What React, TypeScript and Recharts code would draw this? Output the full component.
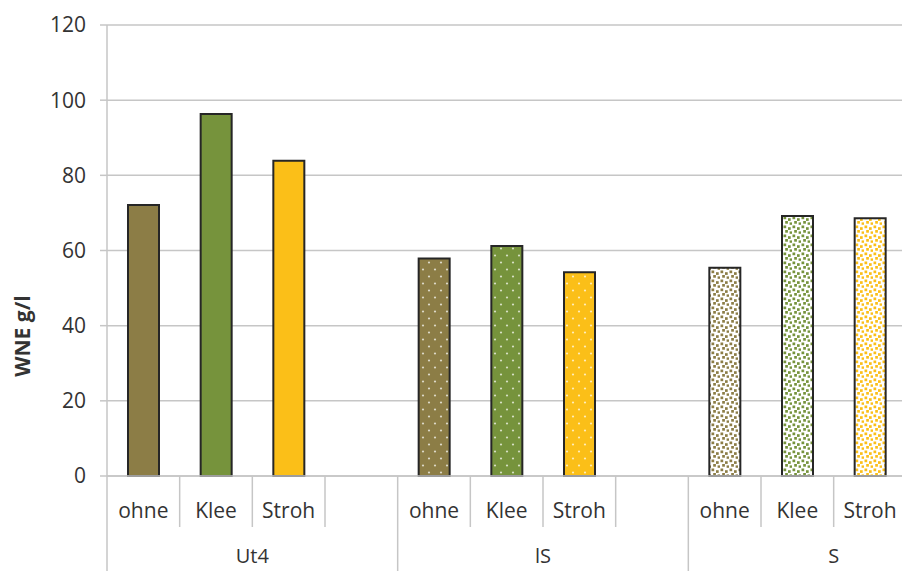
import React from 'react';
import { BarChart, Bar, XAxis, YAxis, CartesianGrid, Cell } from 'recharts';

const groups = ['Ut4', 'lS', 'S'];
const treatments = ['ohne', 'Klee', 'Stroh', ''];
const ut4Values = [72.1, 96.3, 83.9, null];
const lsValues = [57.9, 61.2, 54.2, null];
const sValues = [55.4, 69.2, 68.6, null];
const yTicks = [0, 20, 40, 60, 80, 100, 120];
const yLabel = 'WNE g/l';

const treatmentColors = ['#8c7d46', '#76933c', '#fbbf18', '#cccccc'];
const patternIds = ['ohne', 'klee', 'stroh', 'none'];

const groupValues = [ut4Values, lsValues, sValues];
const data = groups.flatMap((g, gi) =>
  treatments.map((t, ti) => ({
    key: `${g}-${ti}`,
    group: g,
    treatment: t,
    gi,
    ti,
    value: groupValues[gi][ti],
  }))
);

const CHART_W = 990;
const CHART_H = 600;
const MARGIN = { top: 25, right: 11, bottom: 0, left: 0 };
const Y_AXIS_W = 107;
const PLOT_H = 451;
const X_AXIS_H = CHART_H - MARGIN.top - MARGIN.bottom - PLOT_H;
const PLOT_W = CHART_W - MARGIN.left - MARGIN.right - Y_AXIS_W;
const BAND = PLOT_W / data.length;
const AXIS_Y = MARGIN.top + PLOT_H;
const TEXT = '#333333';
const GRID = '#c6c6c6';
const FONT = '"Open Sans", sans-serif';

const CatTick = (props: any) => {
  const { x, payload } = props;
  const idx = payload.index;
  const d = data[idx];
  if (!d) return null;
  const right = x + BAND / 2;
  const left = x - BAND / 2;
  const groupEnd = d.ti === treatments.length - 1;
  return (
    <g>
      {idx === 0 && (
        <line x1={left} x2={left} y1={AXIS_Y} y2={CHART_H} stroke={GRID} strokeWidth={1.5} />
      )}
      <line
        x1={right}
        x2={right}
        y1={AXIS_Y}
        y2={groupEnd ? CHART_H : AXIS_Y + 51}
        stroke={GRID}
        strokeWidth={1.5}
      />
      {d.treatment && (
        <text x={x} y={AXIS_Y + 42} textAnchor="middle" fontSize={21} fill={TEXT} fontFamily={FONT}>
          {d.treatment}
        </text>
      )}
      {d.ti === 1 && (
        <text x={right} y={AXIS_Y + 87} textAnchor="middle" fontSize={20} fill={TEXT} fontFamily={FONT}>
          {d.group}
        </text>
      )}
    </g>
  );
};

const fillFor = (gi: number, ti: number) => {
  if (gi === 0) return treatmentColors[ti];
  if (gi === 1) return `url(#on-${patternIds[ti]})`;
  return `url(#off-${patternIds[ti]})`;
};

export default function App() {
  return (
    <div
      style={{
        position: 'fixed',
        left: 0,
        top: 0,
        width: 902,
        height: 571,
        overflow: 'hidden',
        background: '#fff',
      }}
    >
      <BarChart width={CHART_W} height={CHART_H} data={data} margin={MARGIN} barSize={31}>
        <defs>
          {treatmentColors.map((c, i) => (
            <pattern
              key={`on-${i}`}
              id={`on-${patternIds[i]}`}
              patternUnits="userSpaceOnUse"
              width={12}
              height={14}
            >
              <rect width={12} height={14} fill={c} />
              <circle cx={3} cy={3.5} r={1.1} fill="#ffffff" fillOpacity={0.7} />
              <circle cx={9} cy={10.5} r={1.1} fill="#ffffff" fillOpacity={0.7} />
            </pattern>
          ))}
          {treatmentColors.map((c, i) => (
            <pattern
              key={`off-${i}`}
              id={`off-${patternIds[i]}`}
              patternUnits="userSpaceOnUse"
              width={9}
              height={9}
            >
              <rect width={9} height={9} fill="#ffffff" />
              <rect x={0.5} y={0.5} width={2.7} height={2.7} fill={c} />
              <rect x={5} y={2.2} width={2.7} height={2.7} fill={c} />
              <rect x={2.2} y={5} width={2.7} height={2.7} fill={c} />
              <rect x={6.6} y={6.4} width={2.4} height={2.4} fill={c} />
            </pattern>
          ))}
        </defs>
        <CartesianGrid vertical={false} stroke={GRID} strokeWidth={1.5} />
        <XAxis
          dataKey="key"
          interval={0}
          height={X_AXIS_H}
          tickLine={false}
          axisLine={{ stroke: GRID, strokeWidth: 1.5 }}
          tick={<CatTick />}
        />
        <YAxis
          width={Y_AXIS_W}
          domain={[0, 120]}
          ticks={yTicks}
          interval={0}
          tickSize={7}
          tickMargin={14}
          axisLine={{ stroke: GRID, strokeWidth: 1.5 }}
          tickLine={{ stroke: GRID, strokeWidth: 1.5 }}
          tick={{ fontSize: 21, fill: TEXT, fontFamily: FONT }}
          label={{
            content: () => (
              <text
                x={22}
                y={336}
                transform="rotate(-90 22 336)"
                textAnchor="middle"
                dominantBaseline="central"
                fontSize={21}
                fontWeight="bold"
                fill={TEXT}
                fontFamily={FONT}
              >
                {yLabel}
              </text>
            ),
          }}
        />
        <Bar dataKey="value" isAnimationActive={false} stroke="#262626" strokeWidth={2}>
          {data.map((d) => (
            <Cell key={d.key} fill={fillFor(d.gi, d.ti)} />
          ))}
        </Bar>
      </BarChart>
    </div>
  );
}
